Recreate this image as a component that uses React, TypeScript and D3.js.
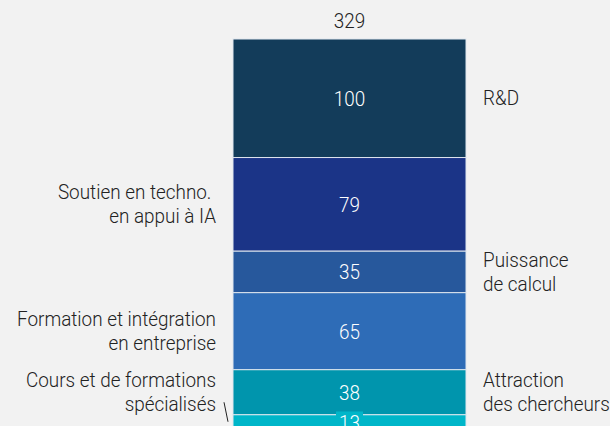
import React from 'react';
import * as d3 from 'd3';

// valeurs
const categories = [
  ['R&D'],
  ['Soutien en techno.\u00a0', 'en appui à IA'],
  ['Puissance', 'de calcul'],
  ['Formation et intégration', 'en entreprise'],
  ['Attraction', 'des chercheurs'],
  ['Cours et de formations', 'spécialisés'],
];
const values = [100, 79, 35, 65, 38, 13];
const sides = ['right', 'left', 'right', 'left', 'right', 'left'];
const colors = ['#133c5a', '#1b3487', '#27589c', '#2e6cb7', '#0095ad', '#00b6c9'];
const total = 329;

const width = 610;
const height = 426;
const barX0 = 233;
const barX1 = 466;
const barTop = 39;
const font = 'Roboto, sans-serif';
const fs = 21;
const squeeze = 0.9;

const narrow = (x: number) => `translate(${x},0) scale(${squeeze},1) translate(${-x},0)`;

export default function App() {
  const y = d3.scaleLinear().domain([0, total]).range([barTop, barTop + 390]);
  const ends = d3.cumsum(values);
  const segs = values.map((v, i) => ({
    v,
    i,
    y0: y(ends[i] - v),
    y1: y(ends[i]),
  }));
  const cx = (barX0 + barX1) / 2;
  const lineH = 24;

  return (
    <svg
      width={width}
      height={height}
      style={{ position: 'absolute', left: 0, top: 0, background: '#f2f2f2' }}
      fontFamily={font}
    >
      <rect width={width} height={height} fill="#f2f2f2" />
      <text x={cx} y={28} textAnchor="middle" fontSize={fs} fontWeight={300} fill="#222"
        transform={narrow(cx)}>
        {total}
      </text>
      {segs.map((s) => (
        <rect
          key={'r' + s.i}
          x={barX0}
          y={s.y0}
          width={barX1 - barX0}
          height={s.y1 - s.y0}
          fill={colors[s.i]}
          stroke="#dfe6ee"
          strokeWidth={1}
        />
      ))}
      {segs.map((s) => {
        const mid = (s.y0 + s.y1) / 2;
        const small = s.y1 - s.y0 < 20;
        return (
          <g key={'v' + s.i} transform={narrow(cx)}>
            {small && (
              <rect x={cx - 15} y={mid - 11} width={30} height={26} fill={colors[s.i]} />
            )}
            <text x={cx} y={mid + 7.5} textAnchor="middle" fontSize={fs} fontWeight={300} fill="#fff">
              {s.v}
            </text>
          </g>
        );
      })}
      {segs.map((s) => {
        const small = s.y1 - s.y0 < 20;
        const ref = small ? segs[s.i - 1] : s;
        const mid = (ref.y0 + ref.y1) / 2;
        const lines = categories[s.i];
        const right = sides[s.i] === 'right';
        const x = right ? 483 : 216;
        const firstY = mid - ((lines.length - 1) * lineH) / 2 + 7;
        return (
          <g key={'l' + s.i}>
            <g transform={narrow(x)}>
              {lines.map((t, k) => (
                <text
                  key={k}
                  x={x}
                  y={firstY + k * lineH}
                  textAnchor={right ? 'start' : 'end'}
                  fontSize={fs}
                  fontWeight={300}
                  fill="#222"
                  xmlSpace="preserve"
                >
                  {t}
                </text>
              ))}
            </g>
            {small && (
              <line x1={224} y1={mid + 10} x2={228} y2={s.y0 + 7} stroke="#222" strokeWidth={1} />
            )}
          </g>
        );
      })}
    </svg>
  );
}
